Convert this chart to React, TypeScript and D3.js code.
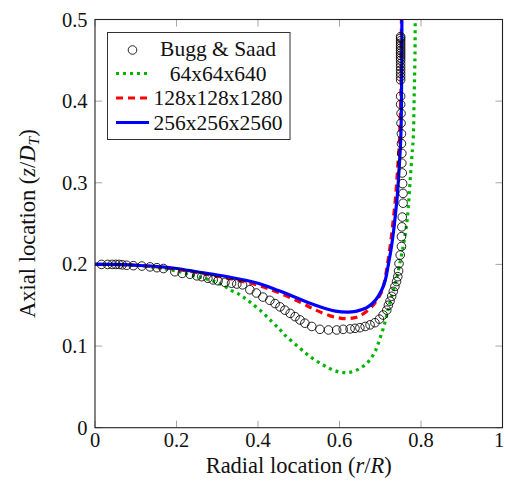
import React from "react";
import * as d3 from "d3";

const xTicks = [0, 0.2, 0.4, 0.6, 0.8, 1];
const yTicks = [0, 0.1, 0.2, 0.3, 0.4, 0.5];
const xTickLabels = ["0", "0.2", "0.4", "0.6", "0.8", "1"];
const yTickLabels = ["0", "0.1", "0.2", "0.3", "0.4", "0.5"];

const seriesNames = ["Bugg & Saad", "64x64x640", "128x128x1280", "256x256x2560"];

// Bugg & Saad experimental data [r/R, z/D_T]
const buggSaad: [number, number][] = [
  [0.016, 0.2], [0.031, 0.2], [0.042, 0.2], [0.051, 0.2], [0.059, 0.2], [0.067, 0.1995],
  [0.078, 0.199], [0.094, 0.1985], [0.115, 0.198], [0.135, 0.197], [0.152, 0.196], [0.168, 0.195],
  [0.196, 0.191], [0.214, 0.189], [0.233, 0.188], [0.25, 0.186], [0.262, 0.185], [0.277, 0.183],
  [0.29, 0.181], [0.302, 0.18], [0.319, 0.178], [0.335, 0.177], [0.348, 0.176], [0.362, 0.175],
  [0.38, 0.169], [0.396, 0.165], [0.412, 0.16], [0.429, 0.156], [0.442, 0.152], [0.454, 0.148],
  [0.466, 0.144], [0.479, 0.14], [0.491, 0.136], [0.503, 0.132], [0.515, 0.128], [0.532, 0.124],
  [0.552, 0.1205], [0.573, 0.1197], [0.593, 0.1197], [0.609, 0.1205], [0.626, 0.121], [0.638, 0.1217],
  [0.65, 0.1225], [0.663, 0.124], [0.675, 0.126], [0.687, 0.1286], [0.698, 0.133], [0.707, 0.138],
  [0.716, 0.144], [0.72, 0.15], [0.724, 0.155], [0.728, 0.161], [0.732, 0.167], [0.736, 0.173],
  [0.74, 0.179], [0.743, 0.185], [0.745, 0.192], [0.746, 0.201], [0.749, 0.2115], [0.752, 0.222],
  [0.752, 0.234], [0.753, 0.246], [0.754, 0.258], [0.756, 0.275], [0.756, 0.287], [0.755, 0.299],
  [0.754, 0.312], [0.753, 0.324], [0.753, 0.336], [0.752, 0.348], [0.752, 0.36], [0.751, 0.373],
  [0.751, 0.385], [0.75, 0.396], [0.75, 0.406], [0.75, 0.426], [0.75, 0.43], [0.75, 0.434],
  [0.75, 0.438], [0.75, 0.442], [0.75, 0.446], [0.75, 0.45], [0.75, 0.453], [0.75, 0.456],
  [0.75, 0.459], [0.75, 0.462], [0.75, 0.465], [0.75, 0.468], [0.75, 0.471], [0.75, 0.474],
  [0.75, 0.477], [0.75, 0.479],
];

const grid64: [number, number][] = [
  [0, 0.2], [0.1, 0.199], [0.2, 0.192], [0.237, 0.187], [0.294, 0.179], [0.319, 0.173],
  [0.335, 0.168], [0.352, 0.164], [0.364, 0.16], [0.38, 0.154], [0.405, 0.144], [0.434, 0.13],
  [0.454, 0.12], [0.466, 0.1135], [0.499, 0.099], [0.528, 0.087], [0.56, 0.0768], [0.589, 0.0698],
  [0.618, 0.0674], [0.646, 0.0715], [0.671, 0.081], [0.687, 0.093], [0.699, 0.109], [0.71, 0.126],
  [0.719, 0.144], [0.73, 0.164], [0.742, 0.187], [0.752, 0.211], [0.759, 0.23], [0.765, 0.25],
  [0.769, 0.271], [0.773, 0.3], [0.777, 0.328], [0.781, 0.355], [0.783, 0.4], [0.785, 0.45],
  [0.786, 0.51],
];

const grid128: [number, number][] = [
  [0, 0.2], [0.1, 0.199], [0.2, 0.194], [0.3, 0.1855], [0.35, 0.1805], [0.4, 0.1745],
  [0.45, 0.1655], [0.5, 0.1545], [0.54, 0.1445], [0.577, 0.137], [0.601, 0.1342],
  [0.618, 0.1335], [0.635, 0.1345], [0.65, 0.137], [0.675, 0.146], [0.69, 0.155], [0.703, 0.166],
  [0.71, 0.178], [0.717, 0.198], [0.725, 0.225], [0.732, 0.255], [0.738, 0.285], [0.743, 0.32],
  [0.747, 0.35], [0.749, 0.38], [0.751, 0.42], [0.752, 0.51],
];

const grid256: [number, number][] = [
  [0, 0.2], [0.05, 0.2], [0.1, 0.199], [0.164, 0.197], [0.2, 0.195], [0.25, 0.191],
  [0.3, 0.187], [0.35, 0.1825], [0.4, 0.177], [0.45, 0.168], [0.5, 0.158], [0.55, 0.1485],
  [0.59, 0.1428], [0.62, 0.1415], [0.64, 0.1425], [0.667, 0.147], [0.688, 0.156], [0.703, 0.168],
  [0.712, 0.18], [0.72, 0.2], [0.727, 0.22], [0.733, 0.242], [0.738, 0.265], [0.742, 0.285],
  [0.746, 0.315], [0.749, 0.34], [0.751, 0.365], [0.752, 0.4], [0.753, 0.45], [0.753, 0.51],
];

const W = 505;
const H = 488;
const left = 95;
const right = 502.5;
const top = 19.5;
const bottom = 427.7;
const FONT = "'Liberation Serif', 'Times New Roman', serif";

export default function App() {
  const x = d3.scaleLinear().domain([0, 1]).range([left, right]);
  const y = d3.scaleLinear().domain([0, 0.5]).range([bottom, top]);
  const line = d3
    .line<[number, number]>()
    .x((d) => x(d[0]))
    .y((d) => y(d[1]))
    .curve(d3.curveCatmullRom.alpha(0.5));

  const tickLen = 7;
  const tickColor = "#a6a6a6";

  const legendX = 107.5;
  const legendY = 32.5;
  const legendW = 182.5;
  const legendH = 107;
  const rowY = [49, 73.5, 98, 122.5];
  const symX0 = 116;
  const symX1 = 149;
  const textX = 218;

  return (
    <svg
      width={W}
      height={H}
      style={{ position: "absolute", left: 0, top: 0, background: "#fff" }}
      fontFamily={FONT}
    >
      <defs>
        <clipPath id="plotClip">
          <rect x={left} y={top} width={right - left} height={bottom - top} />
        </clipPath>
      </defs>
      <rect x={0} y={0} width={W} height={H} fill="#fff" />

      {/* ticks */}
      {xTicks.map((t, i) => (
        <g key={"xt" + i}>
          <line x1={x(t)} x2={x(t)} y1={bottom} y2={bottom - tickLen} stroke={tickColor} strokeWidth={1} />
          <line x1={x(t)} x2={x(t)} y1={top} y2={top + tickLen} stroke={tickColor} strokeWidth={1} />
          <text x={Math.min(x(t), W - 6)} y={447} textAnchor="middle" fontSize={20.5} fill="#111">
            {xTickLabels[i]}
          </text>
        </g>
      ))}
      {yTicks.map((t, i) => (
        <g key={"yt" + i}>
          <line x1={left} x2={left + tickLen} y1={y(t)} y2={y(t)} stroke={tickColor} strokeWidth={1} />
          <line x1={right} x2={right - tickLen} y1={y(t)} y2={y(t)} stroke={tickColor} strokeWidth={1} />
          <text x={87.5} y={y(t)} textAnchor="end" dominantBaseline="central" fontSize={20.5} fill="#111">
            {yTickLabels[i]}
          </text>
        </g>
      ))}

      {/* series */}
      <g clipPath="url(#plotClip)">
        <path d={line(grid64) || ""} fill="none" stroke="#00b400" strokeWidth={3.2} strokeDasharray="3 4" />
        <path d={line(grid128) || ""} fill="none" stroke="#ff0000" strokeWidth={3.2} strokeDasharray="7 5" />
        <path d={line(grid256) || ""} fill="none" stroke="#0000ff" strokeWidth={3.2} />
        {buggSaad.map((d, i) => (
          <circle key={"c" + i} cx={x(d[0])} cy={y(d[1])} r={4.3} fill="none" stroke="#000" strokeWidth={0.85} />
        ))}
      </g>

      {/* frame */}
      <rect x={left} y={top} width={right - left} height={bottom - top} fill="none" stroke="#222" strokeWidth={1.1} />

      {/* legend */}
      <rect x={legendX} y={legendY} width={legendW} height={legendH} fill="#fff" stroke="#333" strokeWidth={1} />
      <circle cx={(symX0 + symX1) / 2} cy={rowY[0] + 1} r={4.3} fill="none" stroke="#000" strokeWidth={0.85} />
      <line x1={symX0} x2={symX1} y1={rowY[1]} y2={rowY[1]} stroke="#00b400" strokeWidth={3.2} strokeDasharray="3 4" />
      <line x1={symX0} x2={symX1} y1={rowY[2]} y2={rowY[2]} stroke="#ff0000" strokeWidth={3.2} strokeDasharray="7 5" />
      <line x1={symX0} x2={symX1} y1={rowY[3]} y2={rowY[3]} stroke="#0000ff" strokeWidth={3.2} />
      {seriesNames.map((n, i) => (
        <text key={"l" + i} x={textX} y={rowY[i]} textAnchor="middle" dominantBaseline="central" fontSize={21.5} fill="#111">
          {n}
        </text>
      ))}

      {/* axis titles */}
      <text x={(left + right) / 2} y={473} textAnchor="middle" fontSize={22.5} fill="#111">
        Radial location (<tspan fontStyle="italic">r</tspan>/<tspan fontStyle="italic">R</tspan>)
      </text>
      <text
        transform={`translate(35, ${(top + bottom) / 2}) rotate(-90)`}
        textAnchor="middle"
        fontSize={22.5}
        fill="#111"
      >
        Axial location (<tspan fontStyle="italic">z</tspan>/<tspan fontStyle="italic">D</tspan>
        <tspan fontStyle="italic" fontSize={15.5} dy={4}>T</tspan>
        <tspan dy={-4}>)</tspan>
      </text>
    </svg>
  );
}
